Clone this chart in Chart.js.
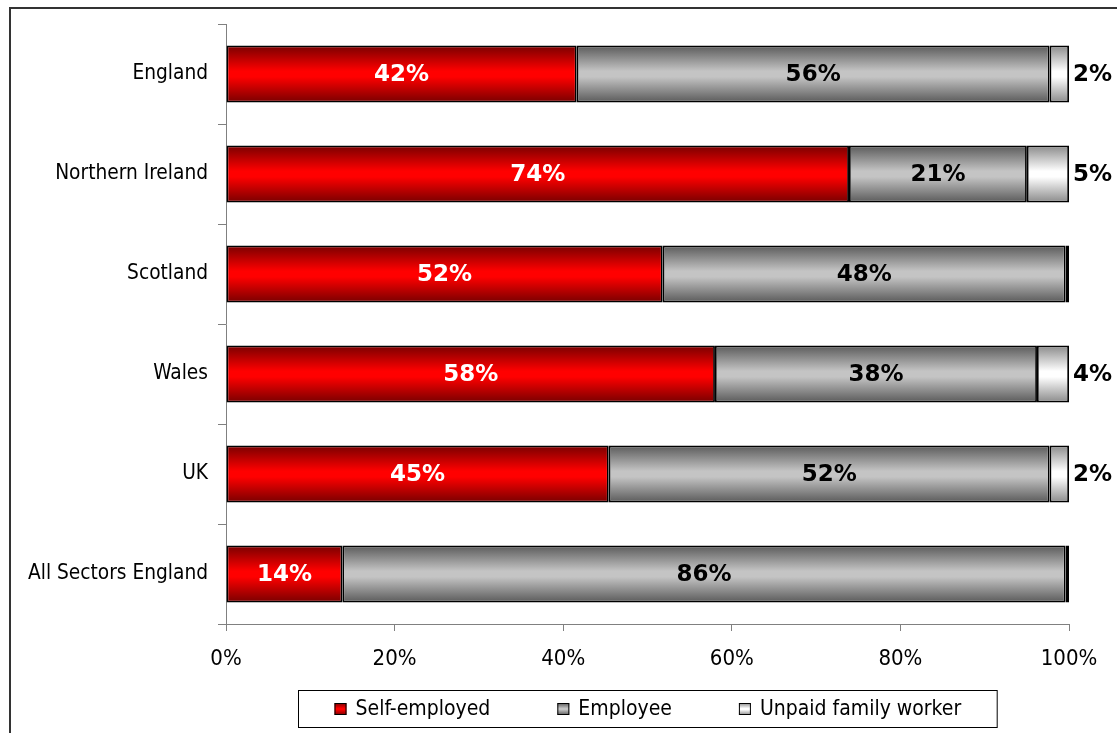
<!DOCTYPE html>
<html>
<head>
<meta charset="utf-8">
<script src="https://cdn.jsdelivr.net/npm/chart.js@4.4.0/dist/chart.umd.min.js"></script>
<style>
  html, body { margin: 0; padding: 0; background: #fff; }
  #wrap { position: relative; width: 1117px; height: 733px; }
</style>
</head>
<body>
<div id="wrap"><canvas id="chart" width="1117" height="733"></canvas></div>
<script>
const regions = ["England", "Northern Ireland", "Scotland", "Wales", "UK", "All Sectors England"];
const selfEmployed = [41.6, 73.9, 51.8, 58.0, 45.4, 13.8];
const employee = [56.1, 21.1, 47.8, 38.2, 52.3, 85.8];
const unpaidFamily = [2.3, 5.0, 0.4, 3.8, 2.3, 0.4];
const seriesNames = ["Self-employed", "Employee", "Unpaid family worker"];
const xTicks = [0, 20, 40, 60, 80, 100];

const FONT = '"DejaVu Sans Condensed", "DejaVu Sans", sans-serif';
const BAR_PCT = 0.57;

// edge / middle colours for the shaded bars
const shades = [
  ["#780000", "#ff0000"],
  ["#5a5a5a", "#c4c4c4"],
  ["#8a8a8a", "#ffffff"],
];

function makeGrad(ctx, y0, y1, pair) {
  const g = ctx.createLinearGradient(0, y0, 0, y1);
  g.addColorStop(0, pair[0]);
  g.addColorStop(0.45, pair[1]);
  g.addColorStop(0.55, pair[1]);
  g.addColorStop(1, pair[0]);
  return g;
}

function barFill(pair) {
  return (c) => {
    const chart = c.chart;
    const ys = chart.scales.y;
    if (!ys || c.dataIndex === undefined) return pair[1];
    const mid = ys.getPixelForValue(c.dataIndex);
    const half = (ys.height / regions.length) * BAR_PCT / 2;
    if (!isFinite(mid) || !isFinite(half) || half <= 0) return pair[1];
    return makeGrad(chart.ctx, mid - half, mid + half, pair);
  };
}

const frame = {
  id: "frame",
  beforeDraw(chart) {
    const ctx = chart.ctx;
    ctx.save();
    ctx.fillStyle = "#fff";
    ctx.fillRect(0, 0, chart.width, chart.height);
    ctx.strokeStyle = "#333";
    ctx.lineWidth = 2;
    ctx.strokeRect(10, 8, 2000, 2000);
    ctx.restore();
  },
};

const valueLabels = {
  id: "valueLabels",
  afterDatasetsDraw(chart) {
    const ctx = chart.ctx;
    ctx.save();
    ctx.font = 'bold 23px "DejaVu Sans", sans-serif';
    ctx.textBaseline = "middle";
    chart.data.datasets.forEach((ds, di) => {
      chart.getDatasetMeta(di).data.forEach((bar, i) => {
        const v = ds.data[i];
        const txt = Math.round(v) + "%";
        if (di === 2) {
          if (v < 1) return;
          ctx.fillStyle = "#000";
          ctx.textAlign = "left";
          ctx.fillText(txt, bar.x + 4, bar.y + 1);
        } else {
          ctx.fillStyle = di === 0 ? "#fff" : "#000";
          ctx.textAlign = "center";
          ctx.fillText(txt, (bar.x + bar.base) / 2, bar.y + 1);
        }
      });
    });
    ctx.restore();
  },
};

// legend drawn in a framed box under the axis
const boxLegend = {
  id: "boxLegend",
  afterDraw(chart) {
    const ctx = chart.ctx;
    const area = chart.chartArea;
    ctx.save();
    ctx.font = "21px " + FONT;
    ctx.textBaseline = "middle";
    const sq = 12, gapTxt = 9, gapItem = 67, pad = 36;
    const widths = chart.data.datasets.map(d => sq + gapTxt + ctx.measureText(d.label).width);
    const inner = widths.reduce((a, b) => a + b, 0) + gapItem * (widths.length - 1);
    const boxW = inner + pad * 2, boxH = 37;
    const bx = Math.round((area.left + area.right) / 2 - boxW / 2) + 0.5;
    const by = area.bottom + 66.5;
    ctx.strokeStyle = "#000";
    ctx.lineWidth = 1;
    ctx.strokeRect(bx, by, boxW, boxH);
    let x = bx + pad;
    const cy = by + boxH / 2;
    chart.data.datasets.forEach((d, i) => {
      ctx.fillStyle = makeGrad(ctx, cy - sq / 2, cy + sq / 2, shades[i]);
      ctx.fillRect(x, cy - sq / 2, sq, sq);
      ctx.strokeRect(x + 0.5, cy - sq / 2 + 0.5, sq - 1, sq - 1);
      ctx.fillStyle = "#000";
      ctx.textAlign = "left";
      ctx.fillText(d.label, x + sq + gapTxt, cy + 1);
      x += widths[i] + gapItem;
    });
    ctx.restore();
  },
};

Chart.defaults.font.family = FONT;
Chart.defaults.color = "#000";

new Chart(document.getElementById("chart"), {
  type: "bar",
  data: {
    labels: regions,
    datasets: [selfEmployed, employee, unpaidFamily].map((vals, i) => ({
      label: seriesNames[i],
      data: vals,
      backgroundColor: barFill(shades[i]),
      borderColor: "#000",
      borderWidth: 1.8,
      borderSkipped: false,
      barPercentage: BAR_PCT,
      categoryPercentage: 1,
    })),
  },
  options: {
    responsive: false,
    animation: false,
    indexAxis: "y",
    layout: { padding: { top: 24, right: 48, left: 0, bottom: 0 } },
    plugins: {
      legend: { display: false },
      tooltip: { enabled: false },
    },
    scales: {
      x: {
        stacked: true,
        min: 0,
        max: 100,
        afterBuildTicks: (s) => { s.ticks = xTicks.map(v => ({ value: v })); },
        afterFit: (s) => { s.height = 109; },
        ticks: { callback: (v) => v + "%", font: { size: 22 }, padding: 15, maxRotation: 0 },
        grid: { drawOnChartArea: false, tickLength: 7, color: "#808080" },
        border: { color: "#808080" },
      },
      y: {
        stacked: true,
        afterFit: (s) => { s.width = 226; },
        ticks: { font: { size: 20.7 }, padding: 10 },
        grid: { drawOnChartArea: false, tickLength: 8, color: "#808080", offset: true },
        border: { color: "#808080" },
      },
    },
  },
  plugins: [frame, valueLabels, boxLegend],
});
</script>
</body>
</html>
